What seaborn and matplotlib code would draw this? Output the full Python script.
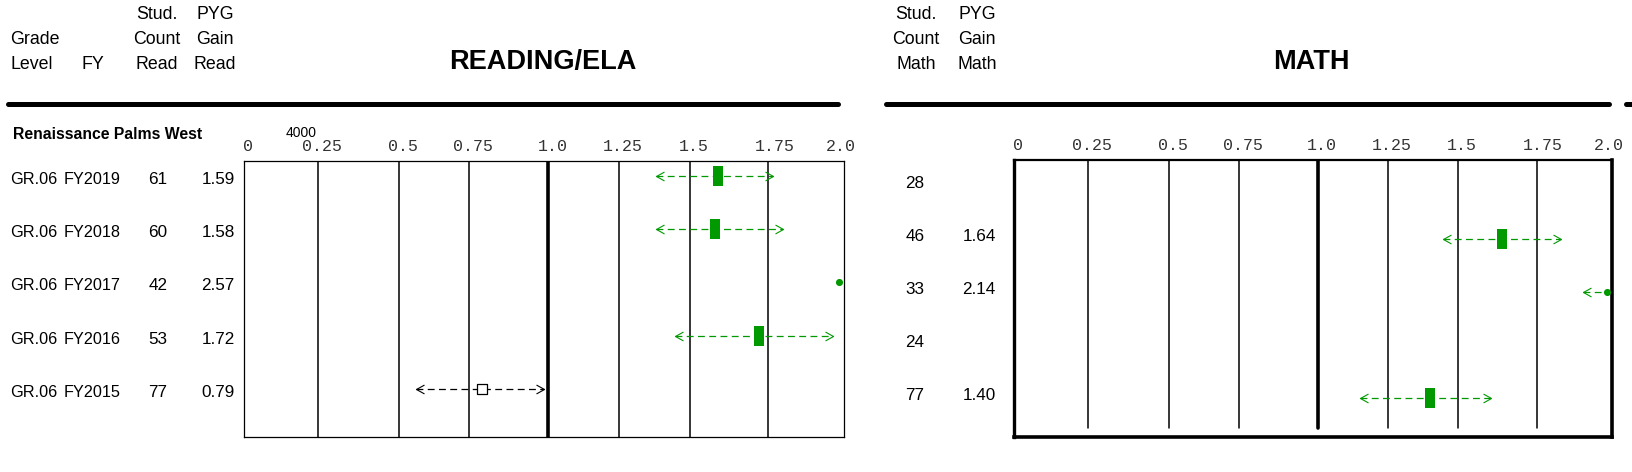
import numpy as np
import pandas as pd
import matplotlib
matplotlib.use("Agg")
import matplotlib.pyplot as plt
import matplotlib.transforms as mtrans
from matplotlib.path import Path
from matplotlib.lines import Line2D
import seaborn as sns

# values
school = "Renaissance Palms West"
grade = "GR.06"
years = ["FY2019", "FY2018", "FY2017", "FY2016", "FY2015"]

read_count = [61, 60, 42, 53, 77]
read_gain = [1.59, 1.58, 2.57, 1.72, 0.79]
read_lo = [1.38, 1.38, np.nan, 1.45, 0.56]
read_hi = [1.765, 1.80, np.nan, 1.965, 0.985]
read_sig = [True, True, True, True, False]

math_count = [28, 46, 33, 24, 77]
math_gain = [np.nan, 1.64, 2.14, np.nan, 1.40]
math_lo = [np.nan, 1.445, 1.905, np.nan, 1.15]
math_hi = [np.nan, 1.83, np.nan, np.nan, 1.605]
math_sig = [False, True, True, False, True]

tick_vals = [0, 0.25, 0.5, 0.75, 1.0, 1.25, 1.5, 1.75, 2.0]
tick_labels = ["0", "0.25", "0.5", "0.75", "1.0", "1.25", "1.5", "1.75", "2.0"]

# layout of the uneven axis (fraction of box width per tick) and label nudges in px
tick_frac = [0, .124, .2596, .3758, .5078, .6254, .7428, .874, 1]
tick_dx = [4, 4, 4, 4, 4, 4, 4, 6, -3]
X_CLIP = 1.983

W, H = 1632, 472
GREEN = "#009900"

sns.set_theme(style="white")
plt.rcParams["font.family"] = ["Liberation Sans", "DejaVu Sans"]
plt.rcParams["text.color"] = "black"

fig = plt.figure(figsize=(W / 100, H / 100), dpi=100)


def fwd(x):
    return np.interp(x, tick_vals, tick_frac)


def inv(f):
    return np.interp(f, tick_frac, tick_vals)


def add_box(x0, y0, x1, y1):
    return fig.add_axes([x0 / W, 1 - y1 / H, (x1 - x0) / W, (y1 - y0) / H])


def ftext(px, py, s, **kw):
    fig.text(px / W, 1 - py / H, s, **kw)


chev_l = Path([(1.8, 1), (0, 0), (1.8, -1)], [Path.MOVETO, Path.LINETO, Path.LINETO])
chev_r = Path([(-1.8, 1), (0, 0), (-1.8, -1)], [Path.MOVETO, Path.LINETO, Path.LINETO])
rect = Path([(-0.5, -1), (0.5, -1), (0.5, 1), (-0.5, 1), (-0.5, -1)],
            [Path.MOVETO, Path.LINETO, Path.LINETO, Path.LINETO, Path.CLOSEPOLY])


def panel(ax, ylim, gain, lo, hi, sig, spine_w, grid_ymin):
    df = pd.DataFrame({"row": range(len(years)), "gain": gain, "lo": lo, "hi": hi, "sig": sig})
    df["x"] = df["gain"].clip(upper=X_CLIP)
    df["kind"] = np.where(df["gain"] > 2, "clip", np.where(df["sig"], "sig", "ns"))

    ax.set_xscale("function", functions=(fwd, inv))

    # confidence range: dashed line with open chevrons
    for r in df.itertuples():
        if np.isnan(r.gain):
            continue
        col = "black" if r.kind == "ns" else GREEN
        left = r.lo if not np.isnan(r.lo) else r.x
        right = r.hi if not np.isnan(r.hi) else r.x
        ax.plot([left, right], [r.row, r.row], color=col, lw=0.9,
                ls=(0, (5.5, 3.5)), zorder=2)
        if not np.isnan(r.lo):
            ax.plot([r.lo], [r.row], marker=chev_l, ms=11.5, mfc="none",
                    mec=col, mew=0.8, lw=0, zorder=3)
        if not np.isnan(r.hi):
            ax.plot([r.hi], [r.row], marker=chev_r, ms=11.5, mfc="none",
                    mec=col, mew=0.8, lw=0, zorder=3)

    sub = df[df["kind"] == "sig"]
    if len(sub):
        sns.scatterplot(data=sub, x="x", y="row", marker=rect, s=205, color=GREEN,
                        edgecolor=GREEN, linewidth=0, ax=ax, zorder=4, legend=False)
    sub = df[df["kind"] == "ns"]
    if len(sub):
        sns.scatterplot(data=sub, x="x", y="row", marker="s", s=44, color="white",
                        edgecolor="black", linewidth=0.9, ax=ax, zorder=4, legend=False)
    sub = df[df["kind"] == "clip"]
    if len(sub):
        sns.scatterplot(data=sub, x="x", y="row", marker="o", s=26, color=GREEN,
                        edgecolor=GREEN, linewidth=0, ax=ax, zorder=4, legend=False)

    for v in tick_vals[1:-1]:
        ax.axvline(v, color="black", lw=2.6 if v == 1.0 else 1.1, ymin=grid_ymin, zorder=1)

    ax.set_xlim(0, 2)
    ax.set_ylim(*ylim)
    ax.set_xticks([])
    ax.set_yticks([])
    ax.set_xlabel("")
    ax.set_ylabel("")
    for side, w in spine_w.items():
        ax.spines[side].set_visible(True)
        ax.spines[side].set_color("black")
        ax.spines[side].set_linewidth(w)

    for v, lab, dx in zip(tick_vals, tick_labels, tick_dx):
        tr = mtrans.blended_transform_factory(ax.transData, ax.transAxes) + \
            mtrans.ScaledTranslation(dx / 100, 10 / 100, fig.dpi_scale_trans)
        ax.text(v, 1, lab, transform=tr, ha="center", va="baseline",
                family=["Liberation Mono", "DejaVu Sans Mono"], fontsize=12,
                color="#333333")


def row_text(ax, px, texts, dy, ha="left", size=12.3):
    tr = mtrans.blended_transform_factory(fig.transFigure, ax.transData)
    for i, t in enumerate(texts):
        ax.text(px / W, i + dy, t, transform=tr, ha=ha, va="baseline",
                fontsize=size, color="black", clip_on=False)


ax_r = add_box(243.5, 160.7, 844, 436.5)
ax_m = add_box(1014, 160, 1612, 436.7)

panel(ax_r, (4.892, -0.287), read_gain, read_lo, read_hi, read_sig,
      {"left": 0.9, "right": 0.9, "top": 0.9, "bottom": 0.9}, 0.0)
panel(ax_m, (4.735, -0.481), math_gain, math_lo, math_hi, math_sig,
      {"left": 2.4, "right": 2.6, "top": 1.6, "bottom": 2.6}, 0.03)

# row labels and number columns
row_text(ax_r, 10.4, [grade] * len(years), 0.15, size=11.7)
row_text(ax_r, 64, years, 0.15, size=11.7)
row_text(ax_r, 158, [str(c) for c in read_count], 0.15, ha="center")
row_text(ax_r, 218, ["%.2f" % g for g in read_gain], 0.15, ha="center")
row_text(ax_m, 915, [str(c) for c in math_count], 0.04, ha="center")
row_text(ax_m, 979, ["" if np.isnan(g) else "%.2f" % g for g in math_gain], 0.04, ha="center")

# column headers
hdr = dict(fontsize=12.8, va="baseline", color="black")
ftext(10, 44, "Grade", ha="left", **hdr)
ftext(10, 69, "Level", ha="left", **hdr)
ftext(81.7, 69, "FY", ha="left", **hdr)
for cx, lines in [(157, ["Stud.", "Count", "Read"]), (215, ["PYG", "Gain", "Read"]),
                  (916, ["Stud.", "Count", "Math"]), (977, ["PYG", "Gain", "Math"])]:
    for by, s in zip([19, 44, 69], lines):
        ftext(cx, by, s, ha="center", **hdr)

ftext(543, 62, "READING/ELA", ha="center", va="center", fontsize=19.5, fontweight="bold")
ftext(1311.7, 62, "MATH", ha="center", va="center", fontsize=19.5, fontweight="bold")

ftext(12.7, 139, school, ha="left", va="baseline", fontsize=11.3, fontweight="bold")
ftext(286, 136.7, "4000", ha="left", va="baseline", fontsize=10)

for x0, x1 in [(8, 838), (886, 1609), (1626, 1632)]:
    fig.add_artist(Line2D([x0 / W, x1 / W], [1 - 103.5 / H] * 2, color="black",
                          lw=3.6, transform=fig.transFigure))

fig.savefig("out.png", dpi=100, facecolor="white")
